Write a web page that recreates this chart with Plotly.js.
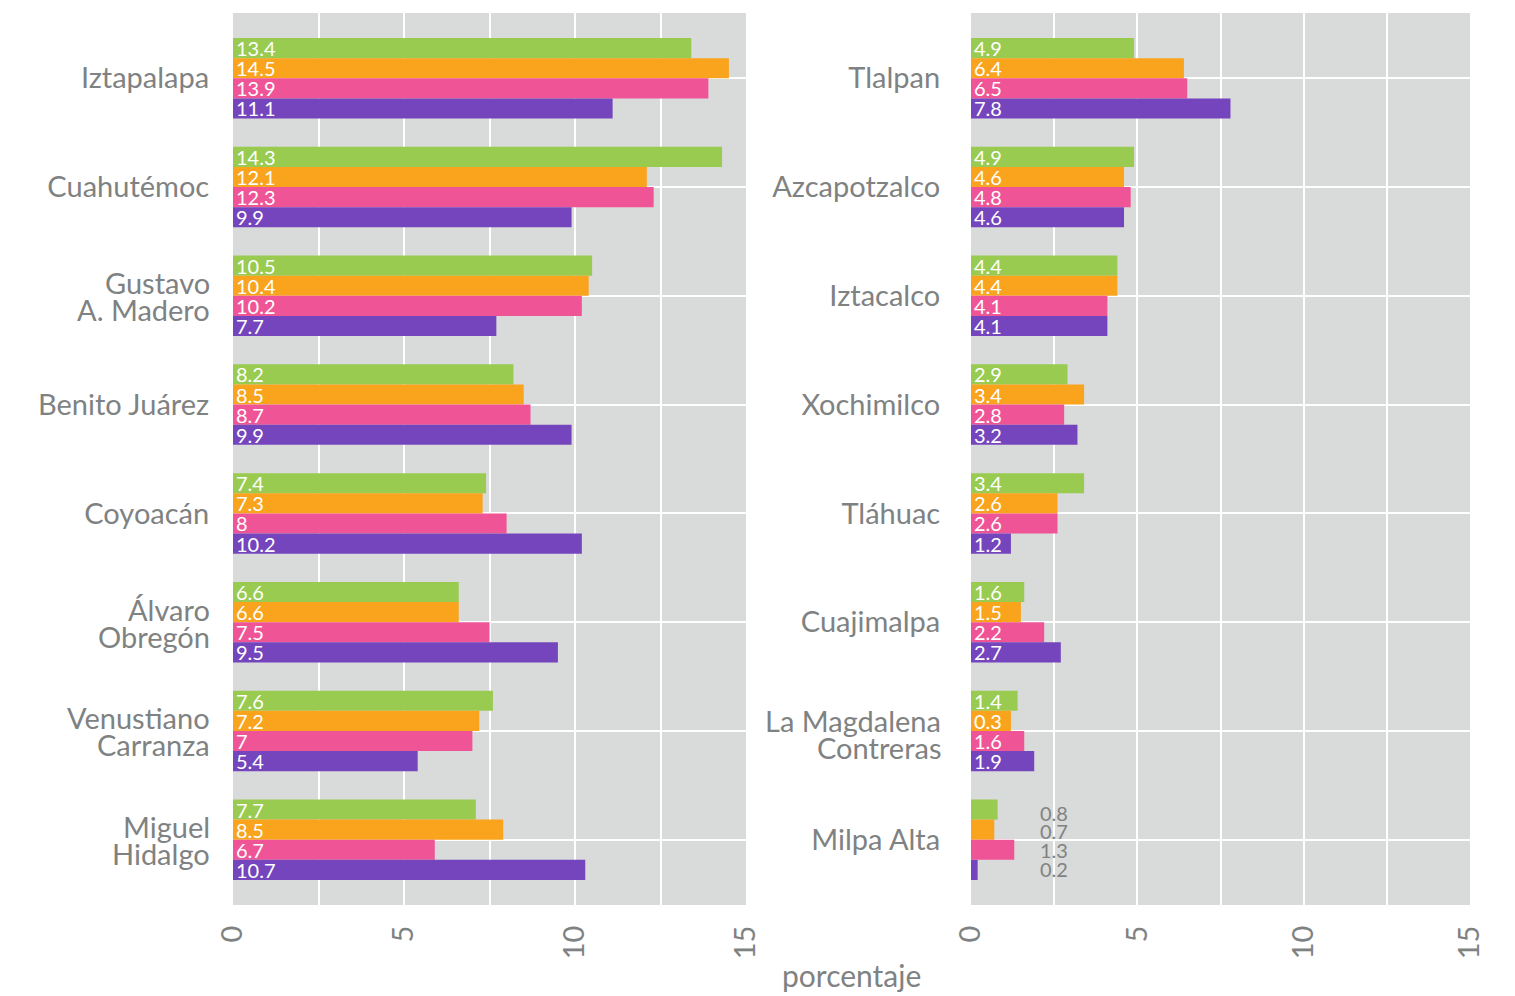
<!DOCTYPE html>
<html><head><meta charset="utf-8">
<script src="https://cdn.plot.ly/plotly-3.0.1.min.js"></script>
<style>html,body{margin:0;padding:0;background:#fff}#chart{width:1515px;height:996px}</style>
</head><body><div id="chart"></div>
<script>
// ---- data ----
const leftCategories = ['Iztapalapa','Cuahutémoc','Gustavo A. Madero','Benito Juárez','Coyoacán','Álvaro Obregón','Venustiano Carranza','Miguel Hidalgo'];
const leftTickLines  = [['Iztapalapa'],['Cuahutémoc'],['Gustavo','A. Madero'],['Benito Juárez'],['Coyoacán'],['Álvaro','Obregón'],['Venustiano','Carranza'],['Miguel','Hidalgo']];
const rightCategories = ['Tlalpan','Azcapotzalco','Iztacalco','Xochimilco','Tláhuac','Cuajimalpa','La Magdalena Contreras','Milpa Alta'];
const rightTickLines  = [['Tlalpan'],['Azcapotzalco'],['Iztacalco'],['Xochimilco'],['Tláhuac'],['Cuajimalpa'],['La Magdalena','Contreras'],['Milpa Alta']];

const seriesNames = ['Serie 1','Serie 2','Serie 3','Serie 4'];
const seriesColors = ['#98cb50','#f9a41c','#ef5596','#7445bd'];

// bar lengths
const leftGreen  = [13.4, 14.3, 10.5, 8.2, 7.4, 6.6, 7.6, 7.1];
const leftOrange = [14.5, 12.1, 10.4, 8.5, 7.3, 6.6, 7.2, 7.9];
const leftPink   = [13.9, 12.3, 10.2, 8.7, 8.0, 7.5, 7.0, 5.9];
const leftPurple = [11.1,  9.9,  7.7, 9.9, 10.2, 9.5, 5.4, 10.3];
const rightGreen  = [4.9, 4.9, 4.4, 2.9, 3.4, 1.6, 1.4, 0.8];
const rightOrange = [6.4, 4.6, 4.4, 3.4, 2.6, 1.5, 1.2, 0.7];
const rightPink   = [6.5, 4.8, 4.1, 2.8, 2.6, 2.2, 1.6, 1.3];
const rightPurple = [7.8, 4.6, 4.1, 3.2, 1.2, 2.7, 1.9, 0.2];

// value labels as printed on the picture
const leftGreenLabels  = ['13.4','14.3','10.5','8.2','7.4','6.6','7.6','7.7'];
const leftOrangeLabels = ['14.5','12.1','10.4','8.5','7.3','6.6','7.2','8.5'];
const leftPinkLabels   = ['13.9','12.3','10.2','8.7','8','7.5','7','6.7'];
const leftPurpleLabels = ['11.1','9.9','7.7','9.9','10.2','9.5','5.4','10.7'];
const rightGreenLabels  = ['4.9','4.9','4.4','2.9','3.4','1.6','1.4','0.8'];
const rightOrangeLabels = ['6.4','4.6','4.4','3.4','2.6','1.5','0.3','0.7'];
const rightPinkLabels   = ['6.5','4.8','4.1','2.8','2.6','2.2','1.6','1.3'];
const rightPurpleLabels = ['7.8','4.6','4.1','3.2','1.2','2.7','1.9','0.2'];

const xTicks = [0, 5, 10, 15];
const xTitle = 'porcentaje';

// ---- styles ----
const FONT = 'Lato, "Open Sans", "Noto Sans", sans-serif';
const GRAY = '#7f8282';
const BARGAP = 0.26;
const CAT_SIZE = 29;
const outsideCategory = 'Milpa Alta';   // labels drawn outside the bars

const leftVals = [leftGreen, leftOrange, leftPink, leftPurple];
const leftLabs = [leftGreenLabels, leftOrangeLabels, leftPinkLabels, leftPurpleLabels];
const rightVals = [rightGreen, rightOrange, rightPink, rightPurple];
const rightLabs = [rightGreenLabels, rightOrangeLabels, rightPinkLabels, rightPurpleLabels];

const traces = [];
const annotations = [];
function addPanel(cats, vals, labs, xa, ya) {
  vals.forEach((v, i) => {
    const txt = labs[i].map((t, j) => cats[j] === outsideCategory ? '' : t);
    traces.push({
      type: 'bar', orientation: 'h', name: seriesNames[i],
      y: cats, x: v, xaxis: xa, yaxis: ya,
      marker: {color: seriesColors[i], line: {width: 0}},
      text: txt, textposition: 'inside', insidetextanchor: 'start',
      textangle: 0, constraintext: 'none', cliponaxis: false,
      textfont: {family: FONT, size: 20, color: '#ffffff'},
      hoverinfo: 'x+y', showlegend: false
    });
    cats.forEach((c, j) => {
      if (c === outsideCategory) {
        const off = (i - 1.5) * (1 - BARGAP) / 4 * 0.93;
        annotations.push({
          xref: xa, yref: ya, x: 2, y: j + off, yshift: -1, text: labs[i][j],
          xanchor: 'left', yanchor: 'middle', showarrow: false,
          font: {family: FONT, size: 20, color: GRAY}
        });
      }
    });
  });
}
addPanel(leftCategories, leftVals, leftLabs, 'x', 'y');
addPanel(rightCategories, rightVals, rightLabs, 'x2', 'y2');

// two-line category labels with tight line spacing
function addMultiLineLabels(lines, xDomStart, ya, gap, shifts) {
  lines.forEach((ls, j) => {
    if (ls.length < 2) return;
    ls.forEach((t, k) => {
      annotations.push({
        xref: 'paper', yref: ya, x: xDomStart, y: j, xshift: -gap, yshift: -shifts[k],
        text: t, xanchor: 'right', yanchor: 'middle', showarrow: false,
        font: {family: FONT, size: CAT_SIZE, color: GRAY}
      });
    });
  });
}
const leftDom = [233/1515, 746/1515];
const rightDom = [971/1515, 1470/1515];
addMultiLineLabels(leftTickLines, leftDom[0], 'y', 21, [-13, 14]);
addMultiLineLabels(rightTickLines, rightDom[0], 'y2', 28, [-10, 17]);

annotations.push({
  xref: 'paper', yref: 'paper', x: (leftDom[0] + rightDom[1]) / 2, y: 0, yshift: -70, text: xTitle,
  xanchor: 'center', yanchor: 'middle', showarrow: false,
  font: {family: FONT, size: 30, color: GRAY}
});

function xAxis(domain, anchor) {
  return {
    domain: domain, anchor: anchor, range: [0, 15], tickvals: xTicks,
    ticktext: xTicks.map(String), tickangle: -90,
    ticks: 'outside', ticklen: 8, tickcolor: 'rgba(0,0,0,0)',
    showgrid: true, gridcolor: '#ffffff', gridwidth: 2,
    minor: {dtick: 2.5, showgrid: true, gridcolor: '#ffffff', gridwidth: 2},
    zeroline: false, showline: false, automargin: false,
    tickfont: {family: FONT, size: 29, color: GRAY}, fixedrange: true
  };
}
function yAxis(cats, lines, anchor, ticklen) {
  return {
    type: 'category', anchor: anchor, domain: [0, 1],
    categoryarray: cats, categoryorder: 'array',
    tickvals: cats, ticktext: lines.map(l => l.length > 1 ? '' : l[0]),
    range: [cats.length - 0.4, -0.6],
    ticks: 'outside', ticklen: ticklen, tickcolor: 'rgba(0,0,0,0)',
    showgrid: true, gridcolor: '#ffffff', gridwidth: 2,
    zeroline: false, showline: false, automargin: false,
    tickfont: {family: FONT, size: CAT_SIZE, color: GRAY}, fixedrange: true
  };
}

const layout = {
  width: 1515, height: 996,
  margin: {l: 0, r: 0, t: 13, b: 91},
  paper_bgcolor: '#ffffff', plot_bgcolor: '#d9dada',
  barmode: 'group', bargap: BARGAP, bargroupgap: 0,
  showlegend: false,
  font: {family: FONT, color: GRAY},
  xaxis: xAxis(leftDom, 'y'),
  yaxis: yAxis(leftCategories, leftTickLines, 'x', 17),
  xaxis2: xAxis(rightDom, 'y2'),
  yaxis2: yAxis(rightCategories, rightTickLines, 'x2', 24),
  annotations: annotations
};

Plotly.newPlot('chart', traces, layout, {displayModeBar: false, staticPlot: true});
</script>
</body></html>
